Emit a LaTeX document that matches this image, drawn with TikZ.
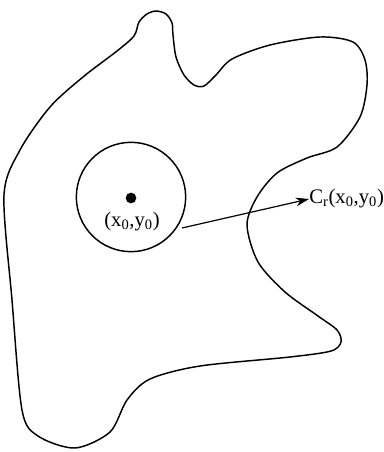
\documentclass[tikz,border=0pt]{standalone}
\usepackage{fontspec}
\setmainfont{Liberation Serif}
\usetikzlibrary{arrows.meta}
\begin{document}
\begin{tikzpicture}[x=0.75pt,y=-0.75pt,
  outline/.style={line width=1.1pt,line join=round},
  lbl/.style={inner sep=0pt,font=\fontsize{15.5}{18}\selectfont}]
\useasboundingbox (0,0) rectangle (383,452);
% region boundary
\draw[outline] plot[smooth cycle,tension=0.5] coordinates {
  (147,14) (156,11) (166,14) (172,23) (173,35) (176,57) (184,75) (194,85)
  (204,86) (216,75) (232,59)
  (270,45) (320,37) (353,42) (365,60) (367,85) (360,117) (337,147)
  (307,158) (277,173) (257,197) (247,225) (258,262) (285,292)
  (318,316) (337,330) (341,342) (331,351) (290,357) (200,366) (150,379) (127,400)
  (110,432) (75,448) (38,436) (22,410) (12,300) (4,195) (20,150)
  (50,107) (83,77) (117,51) (134,36) (139,22)};
% disc
\node[draw,circle,line width=1.1pt,minimum size=82pt,inner sep=0pt] (disc) at (131,197) {};
\node[circle,fill,inner sep=0pt,minimum size=8pt] (ctr) at (131,198) {};
\node[lbl] (p) at (132,222) {(x\textsubscript{0},y\textsubscript{0})};
\coordinate (s) at (182,228);
\node[lbl,anchor=west] (cr) at (309,199) {C\textsubscript{r}(x\textsubscript{0},y\textsubscript{0})};
\draw[line width=0.9pt,-{Stealth[length=10pt,width=6.5pt]}] (s) -- (cr.west);
\end{tikzpicture}
\end{document}
